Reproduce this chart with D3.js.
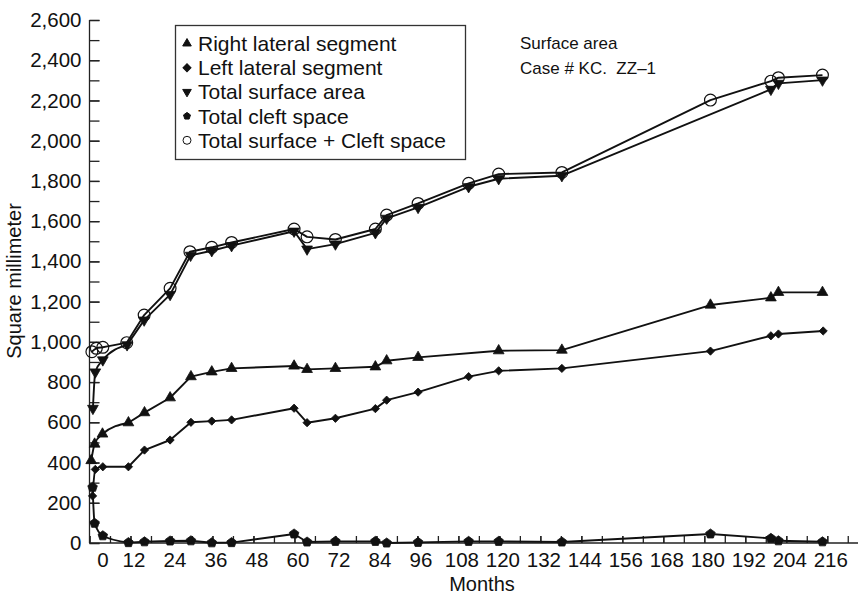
<!DOCTYPE html>
<html>
<head>
<meta charset="utf-8">
<script src="https://cdn.jsdelivr.net/npm/d3@7"></script>
<style>
    body { margin: 0; background: #fff; }
    svg text { font-family: "Liberation Sans", Arial, Helvetica, sans-serif; fill: #111; white-space: pre; }
</style>
</head>
<body>
<svg id="chart" width="861" height="596"></svg>
<script>
// ---- data (months, square millimeter) ----
var rightMonths = [0.5, 1.5, 3.8, 11.4, 16.1, 23.6, 29.7, 35.8, 41.6, 59.9, 63.7, 72, 83.7, 87, 96.2, 119.8, 138.3, 181.8, 199.5, 201.7, 214.6];
var rightValues = [410, 492, 542, 598, 648, 722, 827, 851, 868, 880, 863, 868, 876, 906, 923, 956, 959, 1183, 1219, 1246, 1246];

var leftMonths = [0.9, 1.7, 3.9, 11.4, 16.1, 23.6, 29.7, 35.8, 41.6, 59.9, 63.7, 72, 83.7, 87, 96.2, 111, 119.8, 138.3, 181.8, 199.5, 201.7, 214.8];
var leftValues = [234, 366, 379, 379, 462, 512, 600, 606, 612, 670, 598, 620, 668, 710, 750, 827, 856, 868, 954, 1030, 1039, 1054];

var totalMonths = [1, 1.7, 3.9, 11, 16, 23.6, 29.6, 35.8, 41.6, 59.9, 63.7, 72, 83.7, 87, 96.2, 111, 119.8, 138.3, 199.5, 201.7, 214.6];
var totalValues = [669, 850, 910, 985, 1108, 1235, 1430, 1453, 1478, 1550, 1461, 1486, 1542, 1614, 1668, 1771, 1811, 1826, 2255, 2285, 2301];

var cleftMonths = [0.9, 1.5, 3.9, 11.4, 16.1, 23.6, 29.7, 35.8, 41.6, 59.9, 63.7, 72, 83.7, 87, 96.2, 111, 119.8, 138.3, 181.8, 199.5, 201.7, 214.6];
var cleftValues = [277, 98, 36, 2, 6, 10, 11, 1, 2, 45, 5, 8, 8, 0, 3, 8, 8, 5, 45, 23, 11, 6];

var sumMonths = [0.7, 2, 3.9, 10.9, 16, 23.6, 29.4, 35.8, 41.6, 59.9, 63.7, 72, 83.7, 87, 96.2, 111, 119.8, 138.3, 181.8, 199.5, 201.7, 214.6];
var sumValues = [951, 968, 973, 996, 1133, 1266, 1448, 1470, 1494, 1561, 1522, 1509, 1561, 1630, 1688, 1788, 1834, 1842, 2202, 2296, 2313, 2326];

var seriesNames = ['Right lateral segment', 'Left lateral segment', 'Total surface area', 'Total cleft space', 'Total surface + Cleft space'];
var xTickLabels = d3.range(0, 217, 12);
var yTickLabels = d3.range(0, 2601, 200);
var noteLines = ['Surface area', 'Case # KC.  ZZ\u20131'];

// ---- layout ----
var svg = d3.select('#chart');
var plotLeft = 89.5, plotRight = 858, plotTop = 20, plotBottom = 543;

var x = d3.scaleLinear().domain([0, 225]).range([plotLeft, plotRight]);
var y = d3.scaleLinear().domain([0, 2600]).range([plotBottom, plotTop]);

function zip(ms, vs) { return ms.map(function(m, i) { return { m: m, v: vs[i] }; }); }

// filled pentagon for the cleft series
var symbolPentagon = {
    draw: function(context, size) {
        var r = Math.sqrt(size / 2.378);
        for (var i = 0; i < 5; i++) {
            var a = -Math.PI / 2 + i * 2 * Math.PI / 5;
            if (i === 0) context.moveTo(r * Math.cos(a), r * Math.sin(a));
            else context.lineTo(r * Math.cos(a), r * Math.sin(a));
        }
        context.closePath();
    }
};

var series = [
    { name: seriesNames[0], data: zip(rightMonths, rightValues), symbol: d3.symbolTriangle, size: 50, fill: '#111', angle: 0 },
    { name: seriesNames[1], data: zip(leftMonths, leftValues), symbol: d3.symbolSquare, size: 34, fill: '#111', angle: 45 },
    { name: seriesNames[2], data: zip(totalMonths, totalValues), symbol: d3.symbolTriangle, size: 50, fill: '#111', angle: 180 },
    { name: seriesNames[3], data: zip(cleftMonths, cleftValues), symbol: symbolPentagon, size: 60, fill: '#111', angle: 0 },
    { name: seriesNames[4], data: zip(sumMonths, sumValues), symbol: d3.symbolCircle, size: 110, fill: 'none', angle: 0 }
];

// ---- axes ----
// y: ticks every 100 pointing in, labels every 200
svg.append('g').attr('transform', 'translate(' + plotLeft + ',0)')
    .call(d3.axisLeft(y).tickValues(d3.range(0, 2601, 100)).tickSize(-10).tickFormat(''))
    .call(function(g) { g.select('.domain').remove(); });
svg.append('g').attr('class', 'yaxis').attr('transform', 'translate(' + plotLeft + ',0)')
    .call(d3.axisLeft(y).tickValues(yTickLabels).tickSize(-10).tickPadding(8).tickFormat(d3.format(',')))
    .call(function(g) { g.select('.domain').attr('d', 'M0,' + plotTop + 'V' + plotBottom); });

// x: ticks every 6 months pointing in, labels every 12
svg.append('g').attr('transform', 'translate(0,' + plotBottom + ')')
    .call(d3.axisBottom(x).tickValues(d3.range(0, 223, 6)).tickSize(-7).tickFormat(''))
    .call(function(g) { g.select('.domain').remove(); });
svg.append('g').attr('class', 'xaxis').attr('transform', 'translate(0,' + plotBottom + ')')
    .call(d3.axisBottom(x).tickValues(xTickLabels).tickSize(-7).tickPadding(9))
    .call(function(g) {
        g.select('.domain').attr('d', 'M' + plotLeft + ',0H' + plotRight);
        g.selectAll('.tick text').attr('dx', 3);
        g.selectAll('.tick').filter(function(d) { return d === 0; }).select('text').attr('dx', 13);
    });

svg.selectAll('.tick line, .domain').attr('stroke', '#222').attr('stroke-width', 1.3);
svg.selectAll('.xaxis text, .yaxis text').attr('font-size', 20.5).attr('fill', '#111');

svg.append('text').attr('x', 482).attr('y', 591).attr('text-anchor', 'middle')
    .attr('font-size', 20).text('Months');
svg.append('text').attr('transform', 'translate(21,281) rotate(-90)').attr('text-anchor', 'middle')
    .attr('font-size', 20).text('Square millimeter');

// ---- lines and markers ----
// the first months are drawn as a smooth curve, the rest as straight segments
var smoothLine = d3.line().x(function(d) { return x(d.m); }).y(function(d) { return y(d.v); }).curve(d3.curveMonotoneX);
var straightLine = d3.line().x(function(d) { return x(d.m); }).y(function(d) { return y(d.v); });

series.forEach(function(s) {
    var early = s.data.filter(function(d) { return d.m < 12; }),
        later = s.data.filter(function(d) { return d.m >= early[early.length - 1].m; });
    svg.append('path').datum(early).attr('d', smoothLine)
        .attr('fill', 'none').attr('stroke', '#111').attr('stroke-width', 1.9);
    svg.append('path').datum(later).attr('d', straightLine)
        .attr('fill', 'none').attr('stroke', '#111').attr('stroke-width', 1.9).attr('stroke-linejoin', 'round');
    svg.append('g').selectAll('path').data(s.data).enter().append('path')
        .attr('d', d3.symbol().type(s.symbol).size(s.size))
        .attr('transform', function(d) { return 'translate(' + x(d.m) + ',' + y(d.v) + ') rotate(' + s.angle + ')'; })
        .attr('fill', s.fill).attr('stroke', '#111').attr('stroke-width', s.fill === 'none' ? 1.2 : 0.8);
});

// ---- legend ----
var legend = svg.append('g');
legend.append('rect').attr('x', 175.5).attr('y', 25.5).attr('width', 290).attr('height', 134)
    .attr('fill', '#fff').attr('stroke', '#333').attr('stroke-width', 1.3);
series.forEach(function(s, i) {
    var cy = 43.5 + i * 24.2;
    legend.append('path').attr('d', d3.symbol().type(s.symbol).size(s.fill === 'none' ? 50 : 32))
        .attr('transform', 'translate(187,' + cy + ') rotate(' + s.angle + ')')
        .attr('fill', s.fill).attr('stroke', '#111').attr('stroke-width', 1);
    legend.append('text').attr('x', 198).attr('y', cy + 7.5).attr('font-size', 21).text(s.name);
});

// ---- note ----
noteLines.forEach(function(t, i) {
    svg.append('text').attr('x', 520).attr('y', 49 + i * 24.5).attr('font-size', 17).text(t);
});
</script>
</body>
</html>
